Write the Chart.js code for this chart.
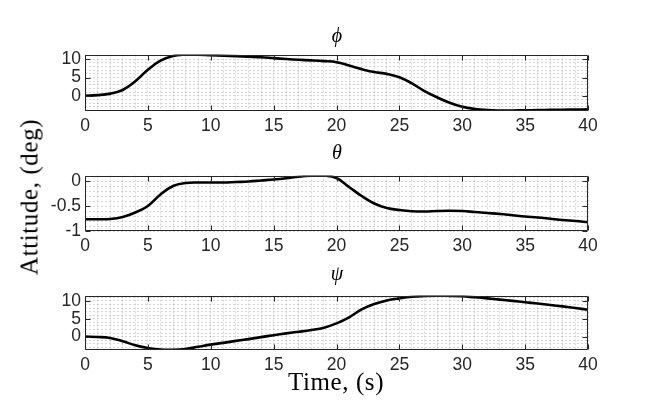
<!DOCTYPE html>
<html><head><meta charset="utf-8">
<script src="https://cdn.jsdelivr.net/npm/chart.js@4.4.1/dist/chart.umd.min.js"></script>
<style>
html,body{margin:0;padding:0;background:#fff}
body{width:650px;height:400px;position:relative;overflow:hidden}
canvas{position:absolute;left:0}
.t{position:absolute;font-family:"Liberation Serif","Times New Roman",serif;color:#000;white-space:nowrap;line-height:1}
.tt{font-style:italic;font-size:20px;transform:translateX(-50%)}
.lab{font-size:25px;letter-spacing:0.6px}
</style></head><body>
<canvas id="c1" width="650" height="99" style="top:40px"></canvas>
<canvas id="c2" width="650" height="98" style="top:161px"></canvas>
<canvas id="c3" width="650" height="97" style="top:281px"></canvas>
<div class="t tt" style="left:337px;top:25px">ϕ</div>
<div class="t tt" style="left:337px;top:142px">θ</div>
<div class="t tt" style="left:337px;top:263px">ψ</div>
<div class="t lab" style="left:29px;top:197px;transform:translate(-50%,-50%) rotate(-90deg)">Attitude, (deg)</div>
<div class="t lab" style="left:336px;top:369px;transform:translateX(-50%)">Time, (s)</div>
<script>
// ---- data ----
const time = [0,1,2,3,4,5,6,7,8,9,10,11,12,13,14,15,16,17,18,19,20,21,22,23,24,25,26,27,28,29,30,31,32,33,34,35,36,37,38,39,40];
const phi = [0,0.2,0.6,1.6,4.0,7.1,9.6,10.9,11.25,11.25,11.1,11.0,10.85,10.7,10.55,10.3,10.05,9.85,9.7,9.5,9.2,8.3,7.3,6.5,6.0,5.1,3.4,1.3,-0.4,-1.9,-3.0,-3.6,-3.9,-4.0,-4.0,-3.95,-3.9,-3.85,-3.8,-3.75,-3.7];
const theta = [-0.765,-0.765,-0.76,-0.72,-0.63,-0.5,-0.27,-0.1,-0.04,-0.03,-0.03,-0.03,-0.02,-0.01,0.01,0.03,0.055,0.085,0.105,0.11,0.06,-0.12,-0.3,-0.45,-0.54,-0.58,-0.605,-0.61,-0.6,-0.595,-0.6,-0.62,-0.64,-0.66,-0.685,-0.71,-0.73,-0.755,-0.78,-0.8,-0.825];
const psi = [0,-0.1,-0.4,-1.3,-2.4,-3.2,-3.65,-3.7,-3.45,-2.85,-2.25,-1.75,-1.2,-0.7,-0.15,0.4,0.9,1.35,1.85,2.5,3.7,5.4,7.6,9.1,10.1,10.7,11.15,11.35,11.45,11.4,11.3,11.0,10.7,10.35,10.0,9.6,9.25,8.85,8.45,8.0,7.5];
const xTicks = [0,5,10,15,20,25,30,35,40];
const phiTicks = [0,5,10];
const thetaTicks = [-1,-0.5,0];
const psiTicks = [0,5,10];

const isMajor = (v, list) => list.some(m => Math.abs(m - v) < 1e-6);

const boxPlugin = {
  id: 'box',
  afterDatasetsDraw(chart, args, opts) {
    const {ctx, chartArea: a, scales: {x, y}} = chart;
    ctx.save();
    ctx.strokeStyle = '#262626';
    ctx.lineWidth = 1;
    const L = Math.round(a.left) + 0.5, R = Math.round(a.right) - 0.5;
    const T = Math.round(a.top) + 0.5, B = Math.round(a.bottom) - 0.5;
    ctx.beginPath();
    ctx.rect(L, T, R - L, B - T);
    opts.xt.forEach(v => {
      const px = Math.round(x.getPixelForValue(v)) + 0.5;
      ctx.moveTo(px, B); ctx.lineTo(px, B - 5);
      ctx.moveTo(px, T); ctx.lineTo(px, T + 5);
    });
    opts.yt.forEach(v => {
      const py = Math.round(y.getPixelForValue(v)) + 0.5;
      ctx.moveTo(L, py); ctx.lineTo(L + 5, py);
      ctx.moveTo(R, py); ctx.lineTo(R - 5, py);
    });
    ctx.stroke();
    ctx.restore();
  }
};

const tickFont = {family: '"Liberation Sans", Arial, sans-serif', size: 17.5};
const gridColor = 'rgba(0,0,0,0.16)';

function makeChart(id, values, ymin, ymax, ystep, yt) {
  new Chart(document.getElementById(id), {
    type: 'line',
    data: {
      datasets: [{
        data: time.map((t, i) => ({x: t, y: values[i]})),
        borderColor: '#000',
        borderWidth: 2.6,
        pointRadius: 0,
        tension: 0.4,
        fill: false
      }]
    },
    options: {
      responsive: false,
      animation: false,
      events: [],
      layout: {padding: {top: 8, right: 62, left: 0, bottom: 0}},
      plugins: {legend: {display: false}, tooltip: {enabled: false}, box: {xt: xTicks, yt: yt}},
      scales: {
        x: {
          type: 'linear', min: 0, max: 40,
          afterFit: s => { s.height = 28; },
          ticks: {stepSize: 1, autoSkip: false, maxRotation: 0, includeBounds: false,
            padding: 5, color: '#262626', font: tickFont,
            callback: v => isMajor(v, xTicks) ? String(v) : ''},
          grid: {color: gridColor, lineWidth: 1, drawTicks: false},
          border: {display: false, dash: [2, 2]}
        },
        y: {
          type: 'linear', min: ymin, max: ymax,
          afterFit: s => { s.width = 85; },
          ticks: {stepSize: ystep, autoSkip: false, includeBounds: false,
            padding: 4, color: '#262626', font: tickFont,
            callback: v => isMajor(v, yt) ? String(Math.round(v * 10) / 10) : ''},
          grid: {color: gridColor, lineWidth: 1, drawTicks: false},
          border: {display: false, dash: [2, 2]}
        }
      }
    },
    plugins: [boxPlugin]
  });
}

makeChart('c1', phi, -4.15, 11.3, 1, phiTicks);
makeChart('c2', theta, -1, 0.11, 0.1, thetaTicks);
makeChart('c3', psi, -3.75, 11.5, 1, psiTicks);
</script>
</body></html>
